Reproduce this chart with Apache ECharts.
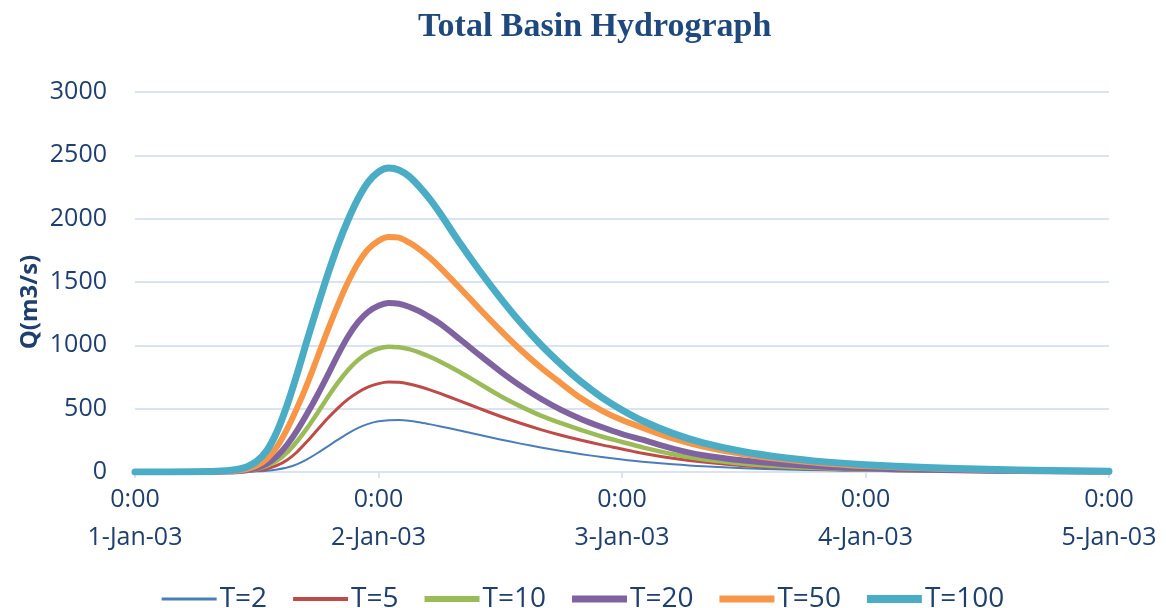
<!DOCTYPE html>
<html>
<head>
<meta charset="utf-8">
<script src="https://cdn.jsdelivr.net/npm/echarts@6/dist/echarts.min.js"></script>
<style>html,body{margin:0;padding:0;background:#fff;}#c{width:1166px;height:608px;}</style>
</head>
<body>
<div id="c"></div>
<script>
// hours since 1-Jan-03 0:00
const hours = [0, 6, 9, 10, 11, 12, 13, 14, 15, 16, 17, 18, 19, 20, 21, 22, 23, 24, 25, 26, 27, 28, 29, 30, 32, 34, 36, 38, 40, 42, 44, 46, 48, 50, 53, 56, 60, 64, 68, 72, 78, 84, 90, 96];
const T2   = [0, 0, 0, 1, 2, 5, 10, 20, 35, 62, 102, 150, 202, 255, 305, 348, 380, 400, 409, 410, 405, 393, 378, 362, 328, 292, 257, 224, 194, 166, 141, 118, 98, 81, 61, 45, 30, 20, 13, 9, 5, 3, 2, 1];
const T5   = [0, 0, 1, 2, 5, 12, 26, 52, 95, 160, 245, 335, 425, 505, 575, 630, 672, 698, 710, 708, 695, 675, 650, 622, 562, 500, 440, 385, 335, 290, 250, 214, 182, 148, 108, 78, 50, 33, 22, 15, 9, 5, 3, 1];
const T10  = [0, 0, 2, 4, 10, 24, 48, 90, 155, 245, 350, 468, 590, 705, 805, 885, 942, 975, 988, 985, 970, 945, 912, 875, 790, 695, 600, 518, 445, 385, 330, 280, 237, 195, 140, 100, 65, 43, 29, 20, 12, 7, 4, 2];
const T20  = [0, 0, 3, 6, 14, 32, 65, 125, 215, 330, 465, 610, 765, 925, 1070, 1185, 1265, 1312, 1334, 1328, 1305, 1270, 1225, 1175, 1050, 920, 795, 680, 578, 490, 417, 355, 300, 255, 185, 132, 90, 62, 42, 29, 17, 10, 5, 2];
const T50  = [0, 1, 5, 10, 22, 50, 105, 200, 340, 510, 700, 910, 1120, 1320, 1500, 1650, 1760, 1825, 1855, 1850, 1812, 1760, 1695, 1620, 1455, 1285, 1120, 965, 825, 700, 580, 485, 410, 350, 265, 200, 140, 98, 68, 47, 29, 17, 9, 5];
const T100 = [0, 2, 10, 20, 40, 85, 170, 320, 530, 780, 1050, 1310, 1560, 1790, 1990, 2160, 2290, 2370, 2400, 2385, 2335, 2255, 2160, 2050, 1810, 1585, 1375, 1180, 1005, 850, 710, 590, 490, 405, 305, 230, 160, 113, 80, 57, 35, 21, 12, 6];
const seriesNames = ['T=2', 'T=5', 'T=10', 'T=20', 'T=50', 'T=100'];
const seriesData = [T2, T5, T10, T20, T50, T100];
const dayLabels = ['1-Jan-03', '2-Jan-03', '3-Jan-03', '4-Jan-03', '5-Jan-03'];

const colors = ['#4A7EBB', '#BE4B48', '#9BBB59', '#7F63A1', '#F79646', '#4BACC6'];
const widths = [2, 3, 4.5, 6, 6, 7];
const legendThick = [3, 4, 6, 7, 7, 8];
const textColor = '#1F3F6F';
const gridColor = '#D9E3F2';

const chart = echarts.init(document.getElementById('c'));
chart.setOption({
  animation: false,
  backgroundColor: '#fff',
  title: {
    text: 'Total Basin Hydrograph',
    left: 413, top: 5,
    textStyle: { fontFamily: 'Liberation Serif', fontWeight: 'bold', fontSize: 34, color: '#1F497D' }
  },
  legend: {
    top: 578, left: 'center',
    itemWidth: 55, itemHeight: 14, itemGap: 26,
    data: seriesNames.map((n, i) => ({
      name: n,
      icon: 'path://M0,0L55,0L55,' + legendThick[i] + 'L0,' + legendThick[i] + 'Z'
    })),
    textStyle: { fontFamily: 'Open Sans', fontSize: 28, lineHeight: 32, color: textColor, padding: [0, 0, 0, -2] }
  },
  grid: { left: 135, right: 57, top: 92, bottom: 136 },
  xAxis: {
    type: 'value', min: 0, max: 96, interval: 24,
    axisLine: { lineStyle: { color: gridColor, width: 2 } },
    axisTick: { show: true, length: 6, lineStyle: { color: gridColor, width: 2 } },
    splitLine: { show: false },
    axisLabel: {
      margin: 9, lineHeight: 38,
      fontFamily: 'Open Sans', fontSize: 25, color: textColor,
      formatter: v => '0:00\n' + dayLabels[Math.round(v / 24)]
    }
  },
  yAxis: {
    type: 'value', min: 0, max: 3000, interval: 500,
    axisLine: { show: false },
    axisTick: { show: false },
    splitLine: { lineStyle: { color: gridColor, width: 2 } },
    axisLabel: { margin: 28, fontFamily: 'Open Sans', fontSize: 25, color: textColor, formatter: v => String(v) }
  },
  graphic: [{
    type: 'text', x: 30, y: 302, rotation: Math.PI / 2,
    style: { text: 'Q(m3/s)', fontFamily: 'Open Sans', fontWeight: 'bold', fontSize: 24, fill: textColor, align: 'center', verticalAlign: 'middle' }
  }],
  series: seriesNames.map((n, i) => ({
    name: n, type: 'line', smooth: 0.3, symbol: 'none',
    data: hours.map((h, j) => [h, seriesData[i][j]]),
    itemStyle: { color: colors[i] },
    lineStyle: { color: colors[i], width: widths[i], cap: 'round', join: 'round' }
  }))
});
</script>
</body>
</html>
